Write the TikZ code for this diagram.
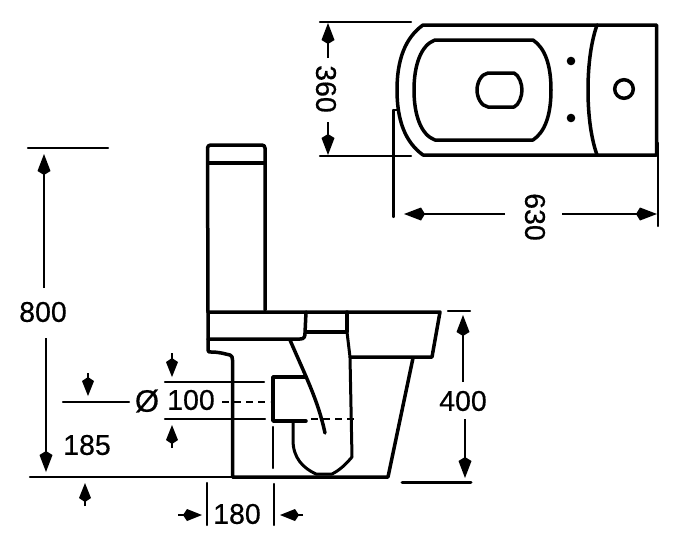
\documentclass[tikz,border=0pt]{standalone}
\usepackage{fontspec}
\setmainfont[FakeBold=0.5]{Liberation Sans}
\usetikzlibrary{arrows.meta}
\tikzset{
  heavy/.style={line width=3.5pt,line join=round,line cap=round},
  medium/.style={line width=3pt,line join=round,line cap=round},
  extline/.style={line width=2.3pt,line cap=round},
  dimarrow/.style={line width=2pt,-{Kite[length=21pt,width=13pt,inset=4pt]}},
  shortarrow/.style={line width=2pt,-{Kite[length=19pt,width=12pt,inset=4pt]}},
  dashline/.style={line width=2.6pt,dash pattern=on 7pt off 5pt},
  dimtext/.style={font=\fontsize{28.5}{28.5}\selectfont,inner sep=0pt,text=black}
}
\begin{document}
\begin{tikzpicture}[x=1pt,y=-1pt]
\useasboundingbox (0,0) rectangle (681,547);
% ---- plan view
\draw[heavy] (423,25) -- (656.5,25) -- (656.5,155) -- (423,155)
  .. controls (405,142) and (397,120) .. (397,90)
  .. controls (397,60) and (405,38) .. (423,25) -- cycle;
\draw[heavy] (597,25) .. controls (590,45) and (588,70) .. (588,90)
  .. controls (588,110) and (590,135) .. (597,155);
\draw[heavy] (435,40) -- (533,40) .. controls (545,48) and (551,65) .. (551,90)
  .. controls (551,115) and (545,132) .. (533,140) -- (435,140)
  .. controls (421,135) and (414,115) .. (414,90)
  .. controls (414,65) and (421,45) .. (435,40) -- cycle;
\draw[heavy] (488,73) -- (514,73) .. controls (519,75) and (522,84) .. (522,90)
  .. controls (522,96) and (519,105) .. (514,107) -- (488,107)
  .. controls (481,106) and (477,97) .. (477,90)
  .. controls (477,83) and (481,74) .. (488,73) -- cycle;
\fill (571,61) circle (4.3pt);
\fill (571,118) circle (4.3pt);
\draw[heavy] (624,89) circle (9.3pt);
% plan dimensions
\draw[extline] (320,22) -- (411,22);
\draw[extline] (320,156) -- (411,156);
\draw[extline] (393.5,110) -- (397,110);
\draw[extline] (393.5,110) -- (393.5,217);
\draw[extline] (658,143) -- (658,226);
\coordinate (d360a) at (328,58); \coordinate (d360b) at (328,23);
\coordinate (d360c) at (328,122); \coordinate (d360d) at (328,155);
\draw[dimarrow] (d360a) -- (d360b);
\draw[dimarrow] (d360c) -- (d360d);
\node[dimtext,rotate=-90] (t360) at (326,89) {360};
\coordinate (d630a) at (505,214); \coordinate (d630b) at (404,214);
\coordinate (d630c) at (562,214); \coordinate (d630d) at (657,214);
\draw[dimarrow] (d630a) -- (d630b);
\draw[dimarrow] (d630c) -- (d630d);
\node[dimtext,rotate=-90] (t630) at (535,217) {630};
% ---- side view
\draw[heavy,rounded corners=3pt] (208,312) -- (207.5,145) -- (265,145) -- (265,310);
\draw[heavy] (208,163) -- (265,163);
\draw[heavy] (208,312) -- (440,312) -- (432,357) -- (350,357);
\draw[heavy] (208,312) -- (208,350) .. controls (208,352) and (209,352) .. (211,352)
  .. controls (220,352) and (225,354) .. (230,355) .. controls (232,356) and (232.5,357) .. (232.5,360)
  -- (232.5,477) -- (388,477) -- (413,358);
\draw[heavy] (208,339) -- (300,339) .. controls (304,339) and (305,337) .. (305,333) -- (306,312);
\draw[heavy] (306,332) -- (347,332) -- (347,312);
\draw[medium] (347,332) -- (350,357) -- (352,457)
  .. controls (346,464) and (340,470) .. (332,474) -- (316,474)
  .. controls (303,468) and (293,458) .. (293,440) -- (293,422);
\draw[heavy] (290,340) .. controls (305,375) and (318,400) .. (325,433);
\draw[heavy] (306,377) -- (273,377) -- (273,421) -- (306,421);
\draw[dashline] (311,419) -- (358,419);
\draw[dashline] (222,402) -- (270,402);
\draw[extline] (273,427) -- (273,468);
% side dimensions
\draw[extline] (28,148) -- (108,148);
\draw[extline] (30,477) -- (232,477);
\draw[extline] (63,402) -- (129,402);
\draw[extline] (165,382) -- (264,382);
\draw[extline] (165,419) -- (265,419);
\draw[extline] (448,311) -- (470,311);
\draw[medium] (402,482) -- (471,482);
\draw[extline] (207,483) -- (207,525);
\draw[extline] (274,484) -- (274,525);
\coordinate (d800a) at (44,288); \coordinate (d800b) at (44,154);
\coordinate (d800c) at (46,338); \coordinate (d800d) at (46,472);
\draw[dimarrow] (d800a) -- (d800b);
\draw[dimarrow] (d800c) -- (d800d);
\coordinate (d400a) at (463,382); \coordinate (d400b) at (463,315);
\coordinate (d400c) at (465,419); \coordinate (d400d) at (465,478);
\draw[dimarrow] (d400a) -- (d400b);
\draw[dimarrow] (d400c) -- (d400d);
\coordinate (a1) at (88,373); \coordinate (a2) at (88,396);
\coordinate (a3) at (172,353); \coordinate (a4) at (172,377);
\coordinate (a5) at (172,448); \coordinate (a6) at (172,425);
\coordinate (a7) at (85,506); \coordinate (a8) at (85,483);
\coordinate (a9) at (178,515); \coordinate (a10) at (202,515);
\coordinate (a11) at (303,515); \coordinate (a12) at (280,515);
\draw[shortarrow] (a1) -- (a2);
\draw[shortarrow] (a3) -- (a4);
\draw[shortarrow] (a5) -- (a6);
\draw[shortarrow] (a7) -- (a8);
\draw[shortarrow] (a9) -- (a10);
\draw[shortarrow] (a11) -- (a12);
\node[dimtext] (t800) at (43,312) {800};
\node[dimtext] (t185) at (87,445) {185};
\node[dimtext,font=\fontsize{31}{31}\selectfont] (tdia) at (147,401) {Ø};
\node[dimtext] (t100) at (191,400) {100};
\node[dimtext] (t180) at (237,514) {180};
\node[dimtext] (t400) at (463,401) {400};
\end{tikzpicture}
\end{document}
